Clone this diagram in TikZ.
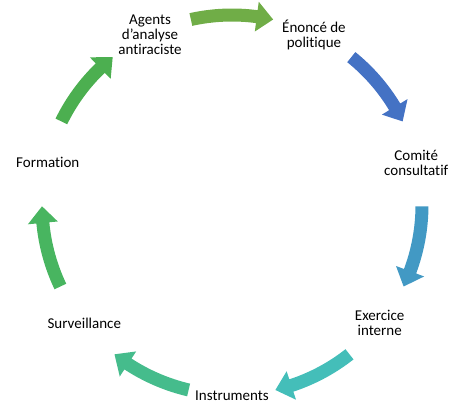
\documentclass[tikz,border=0pt]{standalone}
\usepackage{fontspec}
\setmainfont{Carlito}[Ligatures=NoCommon]
\usepackage{tikz}
\usetikzlibrary{shapes,arrows}

\definecolor{arrA}{RGB}{112,173,71}
\definecolor{arrB}{RGB}{68,114,196}
\definecolor{arrC}{RGB}{66,153,196}
\definecolor{arrD}{RGB}{68,190,185}
\definecolor{arrE}{RGB}{69,188,140}
\definecolor{arrF}{RGB}{72,181,96}
\definecolor{arrG}{RGB}{76,175,80}

\begin{document}
\begin{tikzpicture}[x=1pt,y=1pt,
  every node/.style={draw=none,align=center,inner sep=0pt,font=\fontsize{15}{15}\selectfont}]
  \useasboundingbox (-232,-195) rectangle (218,205);

  % labels round the cycle
  \node (agents) at (115.7:189) {Agents\\d’analyse\\antiraciste};
  \node (enonce) at (64.3:189) {Énoncé de\\politique};
  \node (comite) at (12.9:189) {Comité\\consultatif};
  \node (exercice) at (-38.6:189) {Exercice\\interne};
  \node (instruments) at (-90:191) {Instruments};
  \node (surveillance) at (-141.4:189) {Surveillance};
  \node (formation) at (167.1:189) {Formation};

  % curved block arrows
  \fill[arrA] (102.5:183.5) arc[start angle=102.5,end angle=82.5,radius=183.5] -- (82.5:175) -- (77.5:190) -- (82.5:205) -- (82.5:196.5) arc[start angle=82.5,end angle=102.5,radius=196.5] -- cycle;
  \fill[arrB] (51.1:183.5) arc[start angle=51.1,end angle=31.1,radius=183.5] -- (31.1:175) -- (26.1:190) -- (31.1:205) -- (31.1:196.5) arc[start angle=31.1,end angle=51.1,radius=196.5] -- cycle;
  \fill[arrC] (-0.4:183.5) arc[start angle=-0.4,end angle=-20.4,radius=183.5] -- (-20.4:175) -- (-25.4:190) -- (-20.4:205) -- (-20.4:196.5) arc[start angle=-20.4,end angle=-0.4,radius=196.5] -- cycle;
  \fill[arrD] (-51.8:183.5) arc[start angle=-51.8,end angle=-71.8,radius=183.5] -- (-71.8:175) -- (-76.8:190) -- (-71.8:205) -- (-71.8:196.5) arc[start angle=-71.8,end angle=-51.8,radius=196.5] -- cycle;
  \fill[arrE] (-103.2:183.5) arc[start angle=-103.2,end angle=-123.2,radius=183.5] -- (-123.2:175) -- (-128.2:190) -- (-123.2:205) -- (-123.2:196.5) arc[start angle=-123.2,end angle=-103.2,radius=196.5] -- cycle;
  \fill[arrF] (-154.6:183.5) arc[start angle=-154.6,end angle=-174.6,radius=183.5] -- (-174.6:175) -- (-179.6:190) -- (-174.6:205) -- (-174.6:196.5) arc[start angle=-174.6,end angle=-154.6,radius=196.5] -- cycle;
  \fill[arrG] (153.9:183.5) arc[start angle=153.9,end angle=133.9,radius=183.5] -- (133.9:175) -- (128.9:190) -- (133.9:205) -- (133.9:196.5) arc[start angle=133.9,end angle=153.9,radius=196.5] -- cycle;

\end{tikzpicture}
\end{document}
